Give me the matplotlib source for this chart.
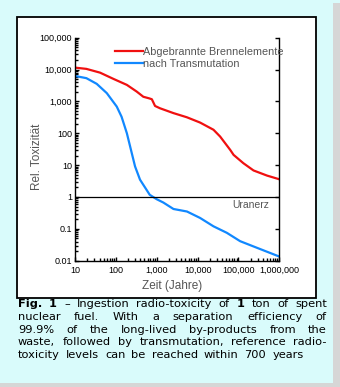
import numpy as np
import matplotlib
matplotlib.use("Agg")
import matplotlib.pyplot as plt
from matplotlib.patches import Rectangle
from matplotlib.ticker import FixedLocator, NullFormatter

# spent fuel (red) and after transmutation (blue), years vs relative toxicity
red_t = [10, 19, 41, 87, 186, 323, 470, 650, 760, 910, 1200, 2560, 5460,
         11500, 24500, 35600, 63000, 76000, 132000, 234000, 500000, 1000000]
red_y = [11500, 10500, 8000, 5100, 3300, 2040, 1400, 1250, 1170, 720, 610,
         430, 318, 217, 129, 79, 30, 21, 11.5, 6.8, 4.7, 3.6]

blue_t = [10, 19, 34, 60, 105, 138, 186, 224, 295, 390, 560, 675, 1000,
          1450, 2570, 5500, 11500, 24500, 52000, 110000, 234000, 1000000]
blue_y = [6300, 5370, 3560, 1820, 690, 330, 100, 38, 9.1, 3.5, 1.7, 1.17,
          0.85, 0.67, 0.42, 0.35, 0.22, 0.12, 0.075, 0.041, 0.028, 0.0135]

x_ticks = [10, 100, 1000, 10000, 100000, 1000000]
x_labels = ["10", "100", "1,000", "10,000", "100,000", "1,000,000"]
y_ticks = [0.01, 0.1, 1, 10, 100, 1000, 10000, 100000]
y_labels = ["0.01", "0.1", "1", "10", "100", "1,000", "10,000", "100,000"]

caption = [
    "Fig. 1 \u2013 Ingestion radio-toxicity of 1 ton of spent",
    "nuclear fuel. With a separation efficiency of",
    "99.9% of the long-lived by-products from the",
    "waste, followed by transmutation, reference radio-",
    "toxicity levels can be reached within 700 years",
]

W, H = 340, 387
fig = plt.figure(figsize=(W / 100, H / 100), dpi=100)
fig.patch.set_facecolor("#d9fbfb")

# grey edges, white frame
fig.add_artist(Rectangle((333 / W, 0), 7 / W, 1 - 3 / H, transform=fig.transFigure,
                         facecolor="#d6d6d6", edgecolor="none", zorder=-5))
fig.add_artist(Rectangle((0, 0), 340 / W, 4 / H, transform=fig.transFigure,
                         facecolor="#d6d6d6", edgecolor="none", zorder=-5))
fig.add_artist(Rectangle((17 / W, 1 - 298 / H), 299 / W, 281 / H, transform=fig.transFigure,
                         facecolor="white", edgecolor="black", linewidth=1.3, zorder=-4))

ax = fig.add_axes([75 / W, 1 - 260.7 / H, 204.3 / W, 223 / H])
ax.set_facecolor("none")
ax.set_xscale("log")
ax.set_yscale("log")

ax.plot(red_t, red_y, color="#f01010", lw=1.6, label="Abgebrannte Brennelemente")
ax.plot(blue_t, blue_y, color="#1188ff", lw=1.6, label="nach Transmutation")
ax.axhline(1, color="black", lw=0.9)
ax.text(72000, 0.8, "Uranerz", color="#555555", fontsize=7.5,
        family="Liberation Sans", va="top", ha="left")

ax.spines["top"].set_visible(False)
for s in ["left", "bottom", "right"]:
    ax.spines[s].set_linewidth(1.0)

def minor_ticks(major):
    return [d * k for d in major[:-1] for k in range(2, 10)]

ax.set_xticks(x_ticks, x_labels)
ax.set_xticks(minor_ticks(x_ticks), minor=True)
ax.set_yticks(y_ticks, y_labels)
ax.set_yticks(minor_ticks(y_ticks), minor=True)
ax.xaxis.set_minor_formatter(NullFormatter())
ax.yaxis.set_minor_formatter(NullFormatter())
ax.set_xlim(10, 1000000)
ax.set_ylim(0.01, 100000)
ax.tick_params(which="both", direction="in", top=False, right=False, labelsize=6.5)
ax.tick_params(axis="x", which="major", pad=4)
ax.tick_params(axis="y", which="major", pad=2)
ax.tick_params(which="major", length=3, width=1)
ax.tick_params(which="minor", length=2.2, width=1, color="black")
ax.tick_params(axis="y", which="major", right=True)
for lab in ax.get_xticklabels() + ax.get_yticklabels():
    lab.set_family("Liberation Sans")

ax.text(0.473, -0.113, "Zeit (Jahre)", transform=ax.transAxes, color="#555555", fontsize=8.5,
        family="Liberation Sans", ha="center", va="center")
ax.text(-0.187, 0.467, "Rel. Toxizit\u00e4t", transform=ax.transAxes, color="#555555", fontsize=8.5,
        family="Liberation Sans", ha="center", va="center", rotation=90)

leg = ax.legend(loc="upper left", bbox_to_anchor=((115 - 75) / 204.3, 0.958), frameon=False,
                handlelength=2.6, handletextpad=0.0, labelspacing=0.2, borderpad=0,
                borderaxespad=0, prop={"family": "Liberation Sans", "size": 7.8})
for t in leg.get_texts():
    t.set_color("#555555")

# justified caption
fig.canvas.draw()
renderer = fig.canvas.get_renderer()
x0, x1 = 18, 327
cap_font = dict(family="DejaVu Sans", size=8.2, color="black")
for i, line in enumerate(caption):
    words = line.split(" ")
    y = 1 - (304 + i * 12.8) / H
    arts = []
    for j, w in enumerate(words):
        bold = (i == 0 and (j < 2 or w == "1"))
        t = fig.text(0, y, w, va="center", ha="left", weight="bold" if bold else "normal", **cap_font)
        arts.append(t)
    widths = [a.get_window_extent(renderer).width for a in arts]
    total = sum(widths)
    if i < len(caption) - 1:
        gap = (x1 - x0 - total) / (len(words) - 1)
    else:
        gap = 6.0
    x = x0
    for a, wd in zip(arts, widths):
        a.set_x(x / W)
        x += wd + gap

fig.savefig("out.png", dpi=100, facecolor=fig.get_facecolor())
